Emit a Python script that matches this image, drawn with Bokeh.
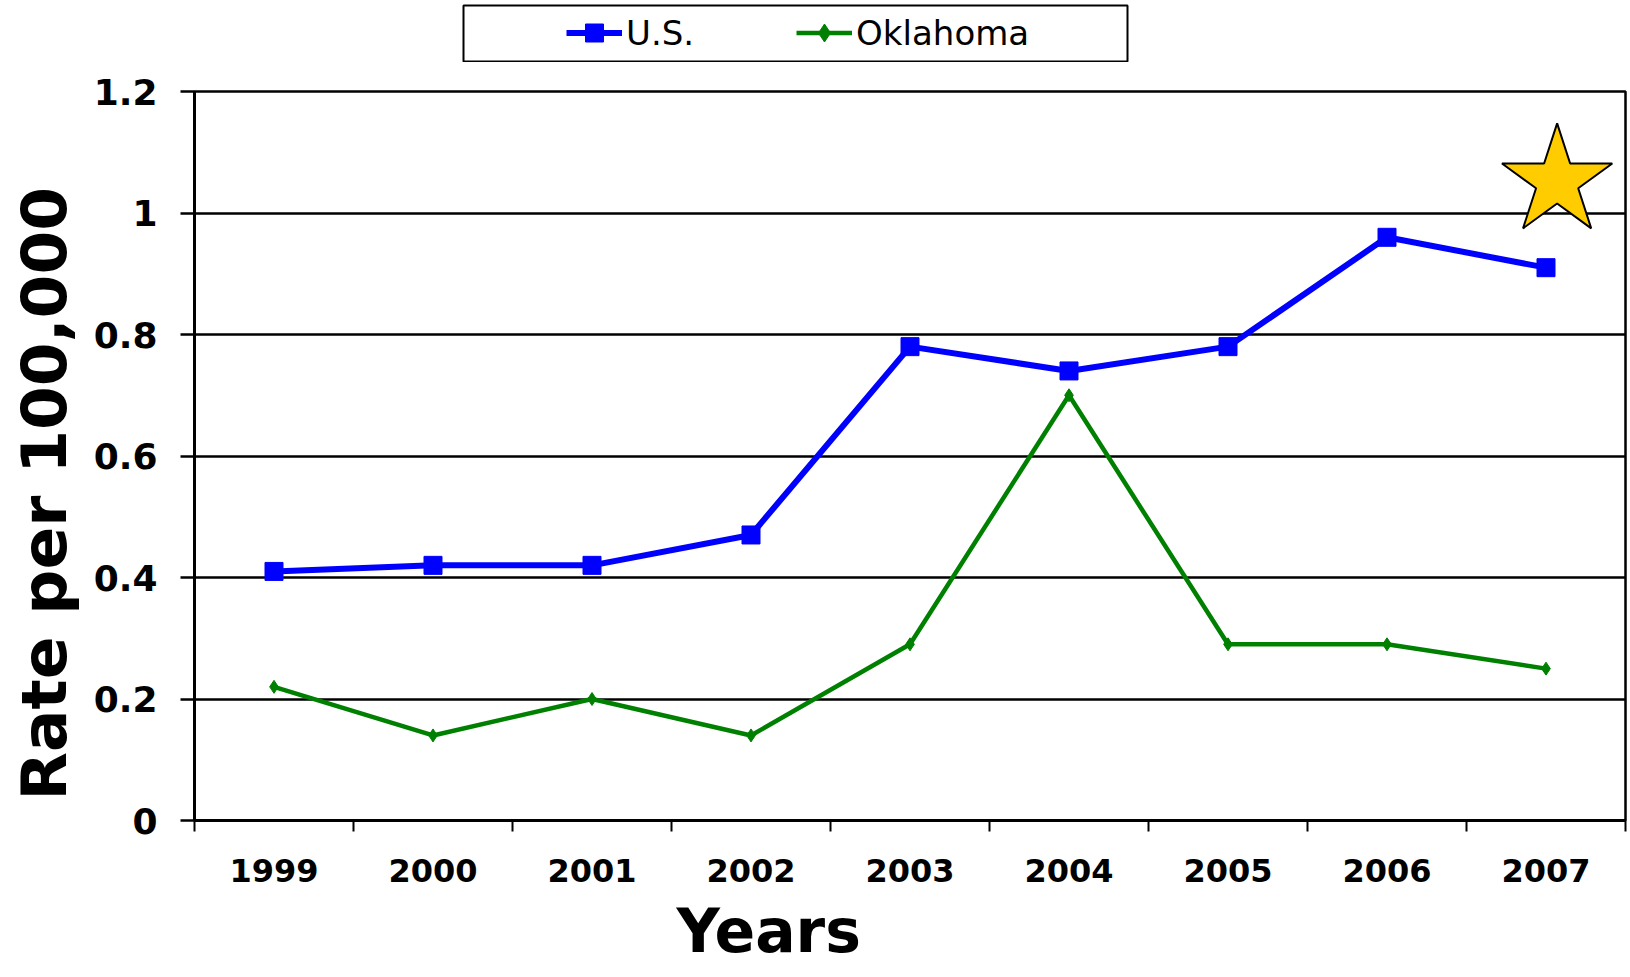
import math
from bokeh.plotting import figure
from bokeh.layouts import column
from bokeh.models import Range1d, FixedTicker, Legend, LegendItem, Title
from bokeh.embed import file_html
from bokeh.resources import INLINE

# ---- data ----
years = ["1999", "2000", "2001", "2002", "2003", "2004", "2005", "2006", "2007"]
us_rate = [0.41, 0.42, 0.42, 0.47, 0.78, 0.74, 0.78, 0.96, 0.91]
ok_rate = [0.22, 0.14, 0.20, 0.14, 0.29, 0.70, 0.29, 0.29, 0.25]
y_ticks = [0, 0.2, 0.4, 0.6, 0.8, 1.0, 1.2]
y_tick_labels = ["0", "0.2", "0.4", "0.6", "0.8", "1", "1.2"]
series_names = ["U.S.", "Oklahoma"]
x_title = "Years"
y_title = "Rate per 100,000"
star_x = [8.57]
star_y = [1.052]

FONT = "DejaVu Sans"
US_COLOR = "#0000FF"
OK_COLOR = "#008000"
xpos = [i + 0.5 for i in range(len(years))]
bounds = list(range(len(years) + 1))

LEFT_BORDER = 193
RIGHT_BORDER = 5


def add_series(fig):
    ul = fig.line(xpos, us_rate, line_color=US_COLOR, line_width=6)
    us = fig.scatter(xpos, us_rate, marker="square", size=18,
                     fill_color=US_COLOR, line_color=US_COLOR)
    ol = fig.line(xpos, ok_rate, line_color=OK_COLOR, line_width=4.5)
    os_ = fig.scatter(xpos, ok_rate, marker="diamond", size=13,
                      fill_color=OK_COLOR, line_color=OK_COLOR)
    return ul, us, ol, os_


# ---- legend box (small figure above the chart; its frame is the box) ----
lf = figure(width=LEFT_BORDER + 665 + RIGHT_BORDER, height=58,
            x_range=Range1d(-20, -19), y_range=Range1d(-20, -19),
            x_axis_location=None, y_axis_location=None,
            output_backend="svg", toolbar_location=None,
            min_border_left=LEFT_BORDER, min_border_right=RIGHT_BORDER,
            min_border_top=1, min_border_bottom=1)
lf.margin = (4, 0, 0, 462 - LEFT_BORDER)
lf.grid.visible = False
lf.outline_line_color = "black"
lf.outline_line_width = 2
lf.background_fill_color = "white"
lf.border_fill_color = None
lf.border_fill_alpha = 0
lu_l, lu_s, lo_l, lo_s = add_series(lf)
legend = Legend(items=[LegendItem(label=series_names[0], renderers=[lu_l, lu_s]),
                       LegendItem(label=series_names[1], renderers=[lo_l, lo_s])],
                orientation="horizontal", location=(103, 6),
                padding=0, spacing=102, margin=0,
                glyph_width=56, glyph_height=45,
                label_standoff=4, label_text_font=FONT, label_text_font_size="34px",
                label_text_color="black",
                border_line_alpha=0, background_fill_alpha=0)
lf.add_layout(legend)

# ---- main chart ----
p = figure(width=1630, height=915,
           x_range=Range1d(0, len(years)), y_range=Range1d(0, 1.2),
           output_backend="svg", toolbar_location=None,
           min_border_left=LEFT_BORDER, min_border_right=RIGHT_BORDER,
           min_border_top=29, min_border_bottom=157)
p.background_fill_color = "white"
p.border_fill_color = "white"
p.outline_line_color = "black"
p.outline_line_width = 2.5

p.xgrid.visible = False
p.ygrid.ticker = FixedTicker(ticks=y_ticks)
p.ygrid.grid_line_color = "black"
p.ygrid.grid_line_width = 2.5

xa = p.xaxis[0]
xa.ticker = FixedTicker(ticks=xpos, minor_ticks=bounds)
xa.major_label_overrides = {x: y for x, y in zip(xpos, years)}
xa.major_tick_out = 0
xa.major_tick_in = 0
xa.minor_tick_out = 11
xa.minor_tick_in = 0
xa.minor_tick_line_color = "black"
xa.minor_tick_line_width = 2
xa.axis_line_color = "black"
xa.axis_line_width = 3
xa.major_label_text_font = FONT
xa.major_label_text_font_style = "bold"
xa.major_label_text_font_size = "32px"
xa.major_label_text_color = "black"
xa.major_label_standoff = 27

ya = p.yaxis[0]
ya.ticker = FixedTicker(ticks=y_ticks)
ya.major_label_overrides = {v: s for v, s in zip(y_ticks, y_tick_labels)}
ya.major_tick_out = 14
ya.major_tick_in = 0
ya.major_tick_line_color = "black"
ya.major_tick_line_width = 2.5
ya.minor_tick_out = 0
ya.minor_tick_in = 0
ya.axis_line_color = "black"
ya.axis_line_width = 3
ya.major_label_text_font = FONT
ya.major_label_text_font_style = "bold"
ya.major_label_text_font_size = "36px"
ya.major_label_text_color = "black"
ya.major_label_standoff = 23

add_series(p)

p.scatter(star_x, star_y, marker="star", size=116,
          fill_color="#FFCC00", line_color="black", line_width=2)

p.add_layout(Title(text=x_title, align="left", offset=482, standoff=18,
                   text_font=FONT, text_font_style="bold", text_font_size="60px",
                   text_color="black"), "below")
p.add_layout(Title(text=y_title, align="left", offset=20, standoff=15,
                   vertical_align="top",
                   text_font=FONT, text_font_style="bold", text_font_size="63px",
                   text_color="black"), "left")

layout = column(lf, p, spacing=0)
open("out.html", "w").write(file_html(layout, INLINE))
